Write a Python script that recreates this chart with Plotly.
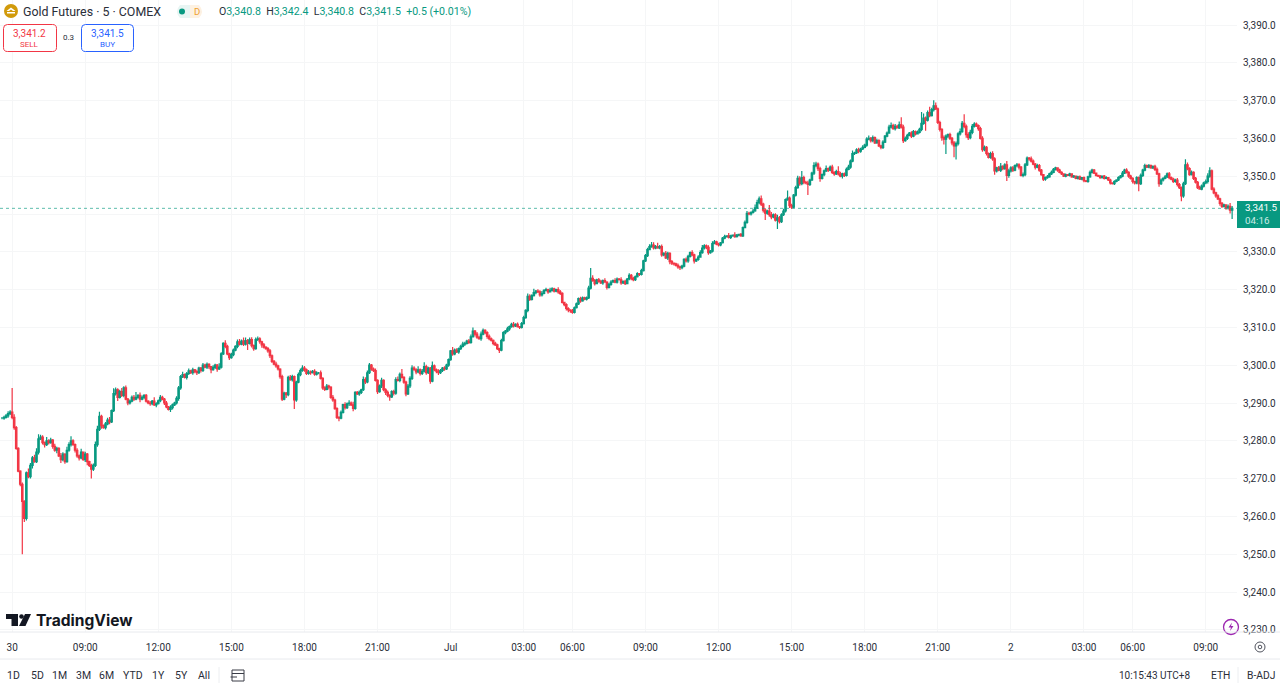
import plotly.graph_objects as go

closes = [
3286.0,3286.2,3286.6,3287.2,3287.6,3286.2,3283.5,3278.0,3272.0,3268.5,3264.0,3259.5,
3271.5,3270.5,3273.5,3275.5,3274.5,3277.0,3280.5,3281.0,3279.5,3279.0,3280.0,3279.5,
3280.2,3278.5,3277.5,3278.0,3276.0,3275.0,3276.5,3274.5,3277.5,3279.0,3280.0,3279.0,
3277.5,3276.0,3275.5,3277.0,3275.0,3276.5,3274.5,3273.5,3272.5,3273.5,3279.0,3283.0,
3286.5,3284.0,3283.5,3284.5,3285.5,3285.0,3288.0,3292.5,3293.5,3291.5,3293.0,3292.0,
3294.0,3291.0,3290.0,3290.5,3291.5,3291.0,3291.5,3292.0,3291.0,3291.5,3292.0,3290.5,
3290.0,3289.8,3290.5,3289.5,3289.8,3290.6,3291.5,3291.0,3290.0,3289.0,3288.3,3288.8,
3289.5,3290.0,3291.2,3294.0,3297.0,3297.5,3296.8,3297.8,3298.5,3298.0,3298.8,3298.3,
3298.0,3299.2,3298.6,3300.0,3299.5,3300.2,3299.6,3298.8,3299.4,3300.0,3299.0,3299.5,
3303.0,3305.8,3305.0,3303.0,3302.0,3302.8,3304.0,3305.0,3306.2,3305.6,3306.4,3305.6,
3306.5,3305.8,3306.8,3305.2,3304.4,3306.8,3307.0,3306.2,3305.4,3304.8,3304.4,3303.8,
3302.5,3301.0,3300.3,3299.8,3299.0,3297.0,3291.0,3292.6,3292.2,3296.8,3296.2,3297.0,
3290.8,3295.5,3297.5,3298.6,3299.2,3298.8,3297.8,3298.2,3298.0,3298.4,3297.6,3298.0,
3298.0,3296.5,3294.0,3293.6,3294.5,3294.2,3291.5,3290.8,3288.5,3286.2,3286.0,3287.5,
3289.6,3288.8,3289.8,3290.0,3289.5,3288.6,3292.8,3292.4,3292.8,3293.5,3296.2,3295.6,
3298.0,3300.0,3299.0,3298.6,3296.0,3293.0,3294.5,3296.0,3293.5,3292.8,3292.0,3291.6,
3293.0,3292.6,3296.2,3296.0,3297.6,3296.8,3295.5,3292.4,3294.5,3296.5,3299.2,3298.8,
3298.2,3298.8,3297.8,3298.4,3299.6,3298.0,3299.2,3295.8,3299.8,3298.8,3298.4,3298.0,
3298.6,3299.2,3299.0,3300.0,3301.5,3303.8,3303.0,3304.0,3303.5,3304.4,3305.0,3305.6,
3305.8,3306.4,3306.0,3307.5,3309.0,3308.2,3307.4,3307.0,3308.2,3309.2,3308.6,3307.6,
3307.0,3306.6,3305.8,3305.4,3304.4,3304.0,3306.5,3308.6,3309.0,3309.6,3310.2,3310.8,
3310.4,3310.8,3310.2,3310.0,3311.0,3312.6,3314.5,3318.2,3317.4,3318.4,3319.2,3319.6,
3319.4,3318.6,3319.0,3319.8,3320.0,3319.4,3319.8,3320.2,3319.6,3320.0,3319.4,3319.0,
3316.6,3316.0,3315.0,3314.6,3314.4,3314.0,3315.2,3316.2,3317.6,3317.0,3317.8,3317.5,
3317.8,3320.4,3323.0,3322.4,3321.6,3322.6,3322.2,3321.8,3322.4,3322.0,3320.6,3321.4,
3322.0,3322.4,3322.0,3322.8,3322.6,3321.8,3322.2,3321.6,3322.8,3323.8,3323.0,3322.6,
3323.4,3324.2,3324.0,3325.0,3327.6,3329.0,3330.6,3331.4,3331.8,3331.0,3331.4,3331.0,
3331.4,3329.2,3329.6,3328.4,3329.6,3327.4,3327.0,3326.8,3326.4,3326.0,3325.8,3326.2,
3328.0,3327.6,3328.8,3329.8,3329.2,3327.6,3328.0,3328.6,3329.8,3331.0,3331.6,3331.2,
3329.8,3330.2,3332.2,3332.6,3332.0,3331.8,3332.4,3333.6,3334.0,3334.2,3333.8,3334.2,
3334.4,3334.0,3334.4,3334.6,3334.2,3336.4,3337.8,3340.2,3340.0,3340.4,3340.8,3341.6,
3343.0,3344.0,3342.6,3341.0,3340.2,3340.8,3339.8,3339.2,3339.8,3338.4,3339.0,3338.0,
3339.8,3340.8,3343.8,3344.2,3342.2,3341.8,3345.0,3347.0,3349.4,3348.0,3349.6,3348.4,
3348.2,3347.8,3349.0,3350.8,3352.8,3353.2,3352.0,3349.4,3350.4,3351.4,3352.0,3351.6,
3352.4,3351.0,3350.6,3351.2,3350.6,3350.0,3350.6,3350.2,3351.8,3352.4,3354.0,3356.0,
3356.2,3357.0,3356.6,3357.2,3357.6,3358.2,3359.8,3360.0,3359.4,3360.2,3358.8,3359.4,
3358.0,3357.6,3359.0,3360.6,3361.4,3363.0,3363.4,3362.6,3363.2,3362.8,3363.6,3363.0,
3359.4,3360.0,3360.8,3361.4,3360.6,3361.8,3361.2,3361.6,3362.4,3364.0,3365.4,3364.8,
3366.8,3366.0,3367.6,3368.6,3367.8,3364.2,3362.4,3360.2,3359.8,3360.6,3361.0,3360.0,
3358.8,3358.0,3358.6,3361.2,3361.8,3364.0,3363.2,3361.0,3360.2,3361.6,3363.2,3363.8,
3363.4,3362.6,3360.0,3357.0,3357.6,3356.0,3355.0,3356.0,3354.6,3351.4,3352.2,3351.6,
3352.6,3352.0,3353.0,3350.2,3351.4,3352.2,3351.6,3352.8,3353.0,3352.4,3350.2,3350.4,
3353.0,3354.8,3354.6,3354.0,3353.2,3352.4,3352.8,3351.6,3350.4,3349.2,3349.6,3349.8,
3350.6,3351.0,3351.8,3352.2,3351.6,3351.0,3350.6,3350.0,3350.4,3350.2,3350.6,3349.8,
3350.0,3349.4,3349.8,3349.2,3349.6,3348.8,3348.6,3349.8,3351.0,3351.6,3350.8,3350.2,
3350.0,3349.6,3350.0,3349.4,3349.6,3349.0,3348.2,3348.0,3348.6,3349.0,3349.6,3350.0,
3350.8,3351.6,3351.0,3350.0,3349.4,3348.6,3348.2,3349.6,3348.0,3350.2,3351.6,3352.8,
3352.4,3352.8,3352.2,3352.6,3351.8,3350.6,3348.0,3349.0,3349.4,3349.8,3350.6,3349.6,
3349.2,3348.6,3349.0,3347.8,3347.0,3344.8,3348.0,3353.0,3352.0,3350.4,3351.0,3349.4,
3348.4,3347.0,3346.6,3347.4,3348.2,3348.6,3350.0,3351.4,3346.6,3345.6,3344.8,3344.0,
3342.8,3342.0,3342.4,3341.6,3342.0,3341.0,3341.5,
]

upper_wick = [
.3,.4,.5,.6,.5,6.4,.8,.4,.3,.2,.5,.3,
.4,1.2,.6,.5,.8,1.0,1.2,.6,.5,.3,1.0,.4,
.6,.3,.7,.4,.3,.8,.5,.2,.9,.6,1.2,.4,
.3,.5,.4,.9,.2,.6,.3,.2,.4,.5,.8,1.0,
1.2,.4,.3,.5,.6,.8,.3,1.4,.6,.4,.5,1.0,
.4,.6,.3,.4,.5,.6,1.4,.3,.8,.5,.3,.4,
.2,.5,.3,1.0,.4,.3,.6,.4,.3,.5,.2,.6,
.4,.3,.6,.5,.4,.8,.3,.4,.6,.3,.5,.2,
.5,.4,.3,.6,.4,.5,.3,.2,.6,.4,.3,1.0,
.4,.3,.8,.4,.3,.5,.4,.3,.6,.7,.4,.9,
.8,.4,.5,.6,.3,.5,.6,.4,.3,.5,.2,.4,
.5,.3,.4,.6,.3,.2,.5,.4,.3,.4,.6,.5,
.3,.4,.6,.5,.8,.6,.3,.5,.4,.3,.5,.4,
.2,.6,.3,.4,.5,.3,.2,.6,.3,.4,.3,.5,
.2,.6,.3,.7,.4,.8,.3,.4,.5,.3,.8,.6,
.6,.6,.3,.4,.5,.3,.4,.7,.3,.4,.5,.3,
.4,.5,.6,.8,.5,1.4,.3,.4,.5,.6,.8,.5,
.4,.9,.3,.6,1.2,.5,.4,.3,1.2,.4,.3,.5,
.4,.3,.5,.4,.3,.2,1.0,.4,.5,.3,.4,.6,
.4,.3,.5,.6,1.0,.3,.6,.4,.7,.5,.3,.4,
.5,.3,.2,.4,.3,.2,.5,.4,.3,.6,.3,.4,
.6,.3,.5,.2,.4,.5,.3,.8,.6,.4,1.0,.3,
.5,.4,.6,.3,.5,.2,.7,.4,.3,.2,.6,.5,
.3,.2,.4,.3,.2,.5,.3,.4,.3,.5,.4,.3,
.4,.6,2.7,.8,.4,.3,.5,.4,.3,.6,.2,.4,
.5,.3,.6,.4,.3,.7,.2,.4,.3,.5,.3,.4,
.3,.4,.2,.5,.3,.4,.5,.6,.8,.7,.4,1.0,
.4,.5,.3,.6,.4,.3,.4,.2,.3,.5,.3,.4,
.3,.5,.4,.3,.6,.3,.2,.5,.6,.8,.4,.3,
.5,.3,.6,.5,.3,.4,.2,.3,.5,.2,.8,.3,
.2,.8,.3,.2,.4,.3,.5,.6,.4,.3,.5,.9,
.8,.6,.9,.4,.5,.3,1.6,.7,.3,.4,.8,.5,
.4,.6,.3,2.0,.4,.5,.3,.5,.7,.6,1.8,.5,
.4,.6,.3,.4,.9,.6,.4,.5,.3,.4,.8,.3,
.4,.6,.3,.5,1.4,.6,.3,.4,.5,.6,.4,.8,
.3,.4,.5,.3,.6,.4,.5,.8,.4,.6,.3,.5,
.4,.3,.5,.3,.4,.6,.8,.5,.6,.4,.9,2.0,
.6,.5,.4,.3,.5,.4,.3,.5,.4,3.0,1.2,.4,
.6,1.6,.5,1.5,.9,.4,.5,.3,.6,.4,.3,.5,
.4,.5,.6,.4,.8,.6,2.4,.5,.6,.7,.6,.5,
.4,.3,.5,.6,.5,.4,.3,.5,.6,.4,.3,.5,
.9,.3,.4,1.0,.6,.4,.5,.3,.5,.4,.3,.6,
.5,.4,.3,.6,.4,.3,.5,.4,.3,.2,.3,.5,
.3,.5,.4,.3,.2,.4,.3,.2,.3,.2,.3,.2,
.3,.2,.3,.4,.2,.3,.2,.3,.5,.4,.3,.2,
.2,.3,.2,.3,.4,.2,.3,.2,.3,.2,.4,.3,
.6,.4,.5,.3,.4,.3,.2,.4,.3,.5,.4,.5,
.3,.4,.3,.2,.4,.5,.3,.4,.3,.5,.4,.5,
.3,.4,.3,.5,.4,.3,.5,1.5,.6,.4,.5,.3,
.4,.3,.5,.4,.3,.5,.8,1.0,.4,.5,.3,.4,
.3,.4,.3,.2,.5,.9,.6,
]

lower_wick = [
.3,.4,.3,.5,.4,.5,.6,.4,.3,.5,14.0,1.0,
.6,.4,.5,.8,.3,.4,.6,.3,.5,.8,.4,.5,
.3,.6,.4,.8,.3,.9,.4,.6,.3,.4,.5,.3,
.6,.5,.7,.4,.3,.6,1.0,.4,2.5,.5,.4,.6,
.4,.8,.3,.5,.4,.6,.3,.4,.5,1.0,.3,.4,
.5,.3,.6,.4,.3,.5,.3,.4,.8,.3,.5,.4,
.3,.5,.4,.3,.6,.2,.4,.3,.5,.4,.3,.7,
.5,.3,.4,.6,.5,.4,.3,.6,.4,.3,.5,.4,
.6,.3,.5,.4,.3,.5,.6,.9,.3,.4,.7,.3,
.4,.3,.5,.4,.6,.3,.4,.3,.5,.4,.3,.5,
.4,1.8,.3,.5,.6,.3,.4,.5,.8,.4,.3,.5,
.6,.4,.3,.5,.4,.6,.5,.3,.9,.4,.3,.5,
2.4,.5,.3,.4,.3,.5,.4,.3,.5,.2,.4,.3,
.4,.3,.5,.4,.2,.6,.4,.5,.3,.4,.8,.3,
.3,.5,.4,.6,.3,.8,.4,.3,.5,.4,.3,.6,
.4,.3,.5,.4,.3,.6,.3,.5,.4,.7,.5,1.0,
.3,.6,.4,.3,.5,.3,.4,.6,.3,.5,.4,.3,
.6,.3,.5,.4,.3,.5,.3,.7,.3,.4,.5,.6,
.3,.4,.5,.3,.4,.3,.5,.4,.3,.5,.4,.3,
.5,.3,.4,.3,.2,.6,.4,.3,.5,.3,.4,.6,
.4,.3,.5,.3,.4,.8,.3,.2,.4,.3,.5,.3,
.4,.3,.2,.4,.3,.2,.3,.5,.4,.3,.2,.4,
.3,.5,.4,.2,.3,.5,.2,.3,.4,.3,.5,.4,
.3,.4,.5,.6,.5,.4,.3,.2,.3,.5,.2,.3,
.4,.3,.4,.3,.5,.2,.4,.3,.5,.2,.6,.3,
.4,.2,.3,.4,.2,.5,.3,.4,.2,.3,.5,.4,
.3,.2,.4,.3,.2,.3,.4,.2,.3,.4,.3,.2,
.3,.5,.4,.3,.6,.7,.5,.4,.3,.5,.6,.4,
.3,.4,.5,.3,.4,.7,.3,.4,.2,.3,.4,.5,
.6,.3,.4,.2,.3,.4,.3,.2,.3,.2,.3,.4,
.2,.3,.2,.3,.2,.3,.2,.4,.3,.4,.3,.2,
.3,.4,.5,.6,1.8,.4,.5,.6,.3,.4,2.4,.5,
.4,.3,.4,.3,.6,.5,.3,.4,.3,.5,.4,.5,
.3,2.8,.4,.3,.5,.4,.6,.9,.3,.4,.3,.5,
.3,.4,.5,.3,.4,.3,.6,.4,.3,.2,.4,.3,
.4,.3,.5,.4,.3,.2,.4,.3,.5,.4,.3,.2,
.3,.5,.4,.2,.3,.2,.4,.3,.5,.2,.3,.4,
.6,.3,.4,.2,.5,.3,.4,.2,.3,.5,.4,2.8,
.3,.4,.2,.5,.3,.4,.6,.8,1.4,3.9,.5,.4,
.6,3.0,3.6,.5,.4,.3,.5,.8,.6,.4,.5,.3,
.4,.6,.3,.5,.4,.5,.3,.4,.5,1.0,.4,.3,
.5,.4,.3,1.5,.6,.4,.5,.3,.4,.6,.3,.5,
.4,.3,.5,.4,.3,.6,.3,.4,.3,.5,.4,.3,
.2,.3,.2,.3,.4,.2,.3,.2,.3,.2,.3,.2,
.3,.2,.3,.2,.3,.4,.2,.3,.2,.3,.2,.3,
.2,.3,.2,.3,.2,.3,.4,.2,.3,.2,.3,.2,
.3,.2,.3,.4,.3,.5,.4,.3,2.0,.3,.4,.3,
.2,.3,.2,.3,.4,.3,.8,.3,.4,.2,.3,.4,
.3,.4,.3,.5,.4,1.4,.5,.3,.4,.3,.2,.4,
.3,.4,.2,.3,.4,.3,.5,.4,.3,.4,.5,.3,
.6,.4,.3,.5,.4,.9,2.3,
]

time_positions = [5,41,77,113,149,185,221,257,281,317,353,389,425,461,497,533,557,593]
time_labels = ["30","09:00","12:00","15:00","18:00","21:00","Jul","03:00","06:00","09:00",
               "12:00","15:00","18:00","21:00","2","03:00","06:00","09:00"]
price_ticks = [3230,3240,3250,3260,3270,3280,3290,3300,3310,3320,3330,3340,3350,3360,3370,3380,3390]
# The 3,340.0 label sits behind the last-price tag in the reference, so it is left blank.
price_labels = ["3,230.0","3,240.0","3,250.0","3,260.0","3,270.0","3,280.0","3,290.0","3,300.0","3,310.0",
                "3,320.0","3,330.0","","3,350.0","3,360.0","3,370.0","3,380.0","3,390.0"]
period_buttons = ["1D","5D","1M","3M","6M","YTD","1Y","5Y","All"]
button_x = [14,37,60,83,106,133,159,181,204]

bars = list(range(len(closes)))
opens = [closes[0]] + closes[:-1]
highs = [max(o, c) + u for o, c, u in zip(opens, closes, upper_wick)]
lows = [min(o, c) - l for o, c, l in zip(opens, closes, lower_wick)]

GREEN = "#089981"; RED = "#F23645"; BLUE = "#2962FF"; INK = "#2a2e39"; GRID = "#f5f6f7"; RULE = "#e8eaee"
FONT = "Roboto"
PW, PH = 1237, 632

fig = go.Figure(go.Candlestick(
    x=bars, open=opens, high=highs, low=lows, close=closes,
    increasing=dict(line=dict(color=GREEN, width=1.2), fillcolor=GREEN),
    decreasing=dict(line=dict(color=RED, width=1.2), fillcolor=RED),
    whiskerwidth=0, showlegend=False, hoverinfo="skip"))

def X(x): return x / PW
def Y(y): return 1 - y / PH

def text(x, y, s, size=10, color=INK, anchor="center", **kw):
    fig.add_annotation(xref="paper", yref="paper", x=X(x), y=Y(y), text=s, showarrow=False,
                       xanchor=anchor, yanchor="middle", font=dict(size=size, color=color, family=kw.pop("family", FONT)),
                       borderpad=0, **kw)

def rect(x0, y0, x1, y1, fill="rgba(0,0,0,0)", line=None, w=1):
    fig.add_shape(type="rect", xref="paper", yref="paper", x0=X(x0), x1=X(x1), y0=Y(y0), y1=Y(y1),
                  fillcolor=fill, line=dict(color=line or "rgba(0,0,0,0)", width=w if line else 0), layer="above")

def circle(cx, cy, r, fill="rgba(0,0,0,0)", line=None, w=1):
    fig.add_shape(type="circle", xref="paper", yref="paper", x0=X(cx-r), x1=X(cx+r), y0=Y(cy-r), y1=Y(cy+r),
                  fillcolor=fill, line=dict(color=line or "rgba(0,0,0,0)", width=w if line else 0), layer="above")

def seg(x0, y0, x1, y1, color=RULE, w=1):
    fig.add_shape(type="line", xref="paper", yref="paper", x0=X(x0), x1=X(x1), y0=Y(y0), y1=Y(y1),
                  line=dict(color=color, width=w), layer="above")

def poly(points, fill):
    d = "M " + " L ".join(f"{X(a):.5f},{Y(b):.5f}" for a, b in points) + " Z"
    fig.add_shape(type="path", xref="paper", yref="paper", path=d, fillcolor=fill, line=dict(width=0), layer="above")

def rrect(x0, y0, x1, y1, r, line):
    d = (f"M {X(x0+r):.5f},{Y(y0):.5f} L {X(x1-r):.5f},{Y(y0):.5f} Q {X(x1):.5f},{Y(y0):.5f} {X(x1):.5f},{Y(y0+r):.5f} "
         f"L {X(x1):.5f},{Y(y1-r):.5f} Q {X(x1):.5f},{Y(y1):.5f} {X(x1-r):.5f},{Y(y1):.5f} "
         f"L {X(x0+r):.5f},{Y(y1):.5f} Q {X(x0):.5f},{Y(y1):.5f} {X(x0):.5f},{Y(y1-r):.5f} "
         f"L {X(x0):.5f},{Y(y0+r):.5f} Q {X(x0):.5f},{Y(y0):.5f} {X(x0+r):.5f},{Y(y0):.5f} Z")
    fig.add_shape(type="path", xref="paper", yref="paper", path=d, line=dict(color=line, width=1),
                  fillcolor="white", layer="above")

# last price line and label
fig.add_shape(type="line", xref="paper", yref="y", x0=0, x1=1, y0=closes[-1], y1=closes[-1],
              line=dict(color="rgba(8,153,129,0.65)", width=1, dash="dot"), layer="above")
rect(1237, 201, 1280, 228, fill=GREEN)
fig.add_annotation(xref="paper", yref="paper", x=X(1243), y=Y(214), showarrow=False, xanchor="left", yanchor="middle",
                   align="left", text='3,341.5<br><span style="color:#cdebe5">04:16</span>',
                   font=dict(size=9.8, color="white", family=FONT))

# header
circle(11, 11, 7, fill="#d19a0b")
poly([(6.5, 11), (11, 7.5), (15.5, 11), (13, 11), (11, 9.5), (9, 11)], "white")
rect(7, 12, 15, 13.5, fill="white")
text(22, 12, "Gold Futures · 5 · COMEX", 12.4, INK, "left")
fig.add_shape(type="path", xref="paper", yref="paper", layer="above", line=dict(width=0), fillcolor="#e8f5f3",
              path=f"M {X(180):.5f},{Y(5):.5f} L {X(190):.5f},{Y(5):.5f} L {X(190):.5f},{Y(18):.5f} L {X(180):.5f},{Y(18):.5f} Q {X(174):.5f},{Y(11.5):.5f} {X(180):.5f},{Y(5):.5f} Z")
fig.add_shape(type="path", xref="paper", yref="paper", layer="above", line=dict(width=0), fillcolor="#fdf1e2",
              path=f"M {X(190):.5f},{Y(5):.5f} L {X(199):.5f},{Y(5):.5f} Q {X(205):.5f},{Y(11.5):.5f} {X(199):.5f},{Y(18):.5f} L {X(190):.5f},{Y(18):.5f} Z")
circle(182, 11.5, 3, fill=GREEN)
text(197, 12, "D", 9.5, "#f0a030")
g = lambda s: f'<span style="color:{GREEN}">{s}</span>'
text(218, 11.5, "O" + g("3,340.8") + "  H" + g("3,342.4") + "  L" + g("3,340.8") + "  C" + g("3,341.5") + "  " + g("+0.5 (+0.01%)"),
     10.6, INK, "left")

# sell / buy
rrect(3.5, 24.5, 56.5, 51.5, 4, RED)
rrect(81.5, 24.5, 133.5, 51.5, 4, BLUE)
text(30, 34, "3,341.2", 10, RED)
text(30, 44.5, "SELL", 8, RED)
text(68.5, 38, "0.3", 8, INK)
text(107.5, 34, "3,341.5", 10, BLUE)
text(107.5, 44.5, "BUY", 8, BLUE)

# watermark
poly([(6, 614), (18, 614), (18, 626), (11.5, 626), (11.5, 619), (6, 619)], "#131722")
circle(21.5, 616.5, 2.3, fill="#131722")
poly([(25, 614), (31, 614), (25.5, 626), (19, 626)], "#131722")
text(35, 620, "<b>TradingView</b>", 15.6, "#131722", "left", family="Inter")

# right-side icons
circle(1231, 627, 7.5, line="#9c27b0", w=1.3)
poly([(1232, 622.5), (1228.5, 627.5), (1231, 627.5), (1230, 631), (1233.5, 626), (1231, 626)], "#9c27b0")
circle(1260, 647, 5, line="#50535e", w=1)
circle(1260, 647, 1.8, line="#50535e", w=1)

# bottom bar
seg(0, 632, 1280, 632)
seg(0, 659, 1280, 659)
for lab, bx in zip(period_buttons, button_x):
    text(bx, 675, lab, 10.5, INK)
seg(219, 667, 219, 683, "#eceef1")
rect(232, 670, 244, 681, line="#3a3d47", w=1)
seg(232, 673.5, 244, 673.5, "#3a3d47")
seg(230.5, 677, 237, 677, "#3a3d47")
text(1155, 675, "10:15:43 UTC+8", 10, INK)
text(1220, 675, "ETH", 10.3, INK)
seg(1238, 667, 1238, 683, "#eceef1")
text(1261, 675, "B-ADJ", 10.3, INK)

fig.update_layout(
    width=1280, height=686, margin=dict(l=0, r=43, t=0, b=54), boxgap=0.02,
    paper_bgcolor="white", plot_bgcolor="white", showlegend=False,
    font=dict(family=FONT, color=INK, size=10),
    xaxis=dict(range=[-0.985, 608.4], rangeslider=dict(visible=False), tickmode="array",
               tickvals=time_positions, ticktext=time_labels, showgrid=True, gridcolor=GRID, gridwidth=1,
               zeroline=False, showline=False, ticks="outside", ticklen=6, tickcolor="white",
               tickfont=dict(size=10, color=INK)),
    yaxis=dict(side="right", range=[3390 - 607 / 3.78, 3390 + 25 / 3.78], tickmode="array", tickvals=price_ticks,
               ticktext=price_labels, showgrid=True, gridcolor=GRID, gridwidth=1, zeroline=False, showline=False,
               ticks="outside", ticklen=3, tickcolor="white", tickfont=dict(size=10, color=INK)),
)

assert len(closes) == len(upper_wick) == len(lower_wick), (len(closes), len(upper_wick), len(lower_wick))

fig.write_html("out.html", post_script="document.body.style.margin='0';document.body.style.overflow='hidden';",
               config=dict(displayModeBar=False))
